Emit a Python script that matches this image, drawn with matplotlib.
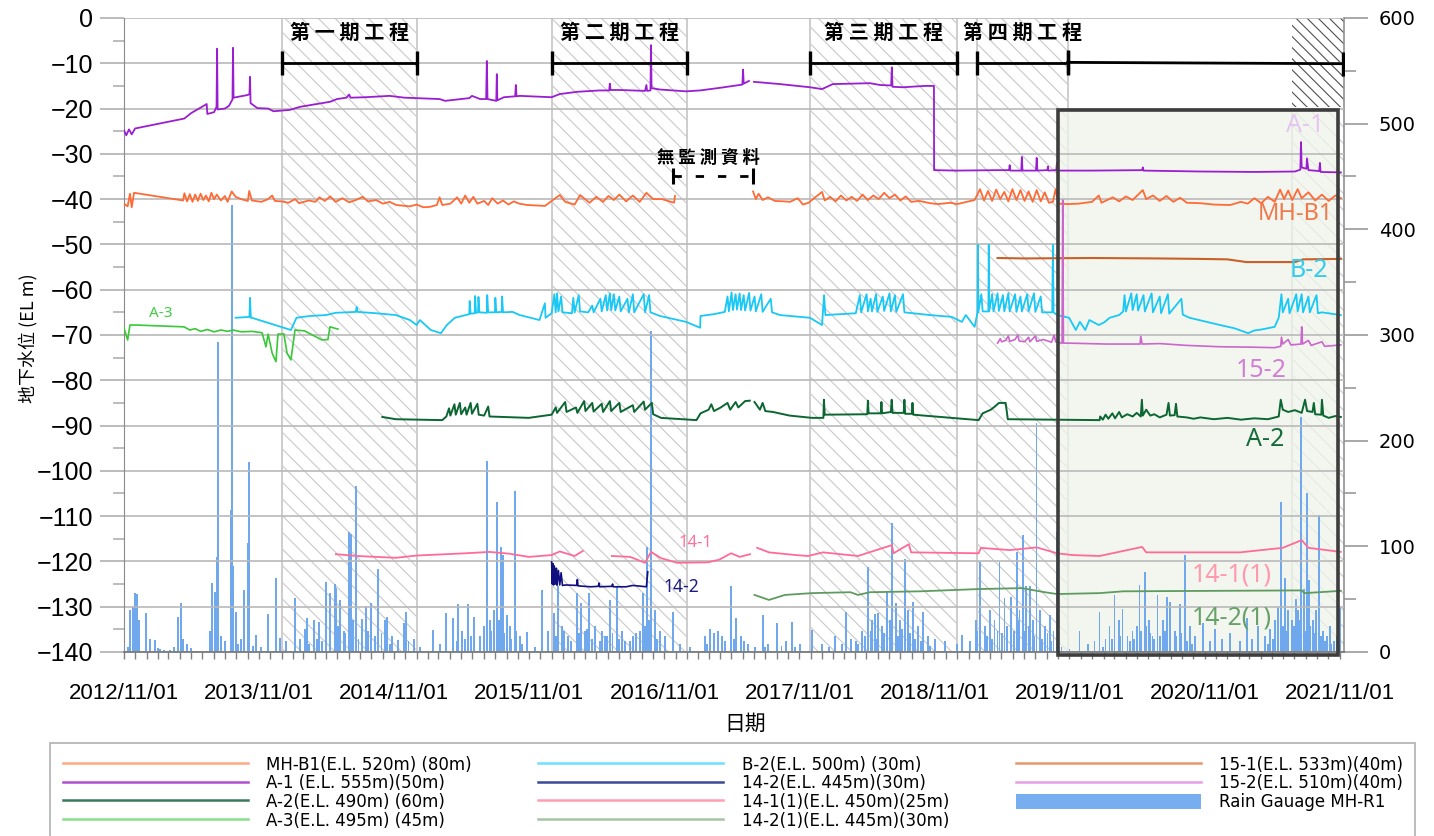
import numpy as np
import matplotlib
matplotlib.use('Agg')
import matplotlib.pyplot as plt
import matplotlib.dates as mdates
from matplotlib.ticker import MultipleLocator
from matplotlib.lines import Line2D
from matplotlib.patches import Patch, Rectangle
from datetime import datetime

plt.rcParams['font.family'] = ['Liberation Sans', 'Noto Sans CJK TC', 'DejaVu Sans']
plt.rcParams['hatch.linewidth'] = 0.8

# ---- data: (decimal year, level in m) ----
A1 = [(2012.833, -24.8), (2012.85, -25.9), (2012.87, -24.6), (2012.89, -25.7), (2012.915, -24.4),
      (2013.28, -22.2), (2013.33, -21.0), (2013.40, -19.8), (2013.445, -19.0), (2013.45, -21.2),
      (2013.50, -20.8), (2013.518, -19.6), (2013.522, -6.8), (2013.526, -20.2), (2013.58, -20.0),
      (2013.61, -19.4), (2013.636, -18.0), (2013.64, -6.6), (2013.644, -17.6), (2013.75, -17.0),
      (2013.762, -16.8), (2013.766, -13.0), (2013.77, -18.8), (2013.82, -19.9), (2013.90, -20.0),
      (2013.94, -20.6), (2014.06, -20.3), (2014.14, -19.6), (2014.36, -18.5), (2014.41, -17.9),
      (2014.48, -17.6), (2014.50, -16.9), (2014.51, -17.6), (2014.62, -17.5), (2014.80, -17.2),
      (2014.91, -17.6), (2015.17, -17.9), (2015.21, -18.3), (2015.39, -17.7), (2015.41, -17.2),
      (2015.47, -17.9), (2015.515, -17.9), (2015.52, -9.5), (2015.525, -17.9), (2015.59, -18.3),
      (2015.594, -12.4), (2015.598, -18.2), (2015.646, -17.5), (2015.73, -17.3), (2015.735, -14.8),
      (2015.74, -17.3), (2015.764, -17.2), (2016.00, -17.5), (2016.06, -16.8), (2016.19, -16.3),
      (2016.356, -16.0), (2016.425, -16.0), (2016.43, -14.5), (2016.435, -15.9), (2016.50, -15.9),
      (2016.69, -16.1), (2016.70, -14.8), (2016.705, -16.1), (2016.73, -16.0), (2016.734, -6.0),
      (2016.738, -15.5), (2016.80, -15.8), (2016.993, -16.2), (2017.097, -16.0), (2017.25, -15.4),
      (2017.39, -14.8), (2017.41, -14.7), (2017.415, -11.4), (2017.42, -14.5), (2017.459, -13.9),
      (2017.47, np.nan), (2017.496, -14.1), (2017.689, -14.6), (2017.911, -15.3), (2018.00, -15.7),
      (2018.08, -14.6), (2018.355, -14.4), (2018.43, -14.8), (2018.512, -14.9), (2018.517, -10.9),
      (2018.522, -15.2), (2018.60, -15.3), (2018.762, -15.0), (2018.829, -15.0), (2018.830, -33.6),
      (2019.00, -33.7), (2019.30, -33.6), (2019.385, -33.6), (2019.39, -32.5), (2019.395, -33.7),
      (2019.476, -33.7), (2019.48, -30.7), (2019.485, -33.7), (2019.585, -33.7), (2019.59, -30.9),
      (2019.595, -33.7), (2019.67, -33.6), (2019.673, -32.8), (2019.676, -33.7), (2019.735, -33.6),
      (2019.74, -32.0), (2019.745, -33.7), (2020.00, -33.7), (2020.37, -33.6), (2020.375, -33.0),
      (2020.38, -33.7), (2020.80, -33.9), (2021.20, -34.0), (2021.50, -33.9), (2021.54, -33.5),
      (2021.545, -27.4), (2021.55, -33.0), (2021.585, -33.3), (2021.589, -31.0), (2021.60, -33.6),
      (2021.68, -33.8), (2021.685, -32.0), (2021.69, -34.0), (2021.84, -34.1)]

MHB1 = [(2012.833, -41.0), (2012.86, -41.6), (2012.877, -38.8), (2012.89, -41.8), (2012.907, -38.6),
        (2013.27, -40.3), (2013.28, -38.7), (2013.30, -40.5), (2013.32, -38.9), (2013.34, -40.6),
        (2013.36, -39.0), (2013.38, -40.4), (2013.40, -38.8), (2013.42, -40.2), (2013.44, -39.2),
        (2013.46, -40.5), (2013.48, -38.6), (2013.50, -40.0), (2013.52, -39.0), (2013.55, -40.3),
        (2013.58, -39.3), (2013.60, -40.6), (2013.63, -38.3), (2013.66, -39.5), (2013.70, -40.0),
        (2013.75, -40.4), (2013.76, -38.2), (2013.78, -40.3), (2013.85, -40.6), (2013.90, -40.0),
        (2013.93, -39.2), (2013.95, -40.4), (2014.00, -40.5), (2014.05, -40.8), (2014.10, -40.0),
        (2014.13, -40.9), (2014.20, -40.3), (2014.25, -40.6), (2014.28, -39.6), (2014.32, -40.4),
        (2014.36, -39.4), (2014.40, -40.6), (2014.45, -39.8), (2014.50, -40.7), (2014.55, -40.2),
        (2014.60, -39.5), (2014.64, -40.5), (2014.70, -40.2), (2014.75, -41.0), (2014.80, -40.6),
        (2014.85, -41.3), (2014.95, -41.6), (2015.00, -41.2), (2015.05, -41.8), (2015.10, -41.7),
        (2015.15, -41.3), (2015.17, -39.6), (2015.19, -41.3), (2015.25, -41.0), (2015.30, -39.6),
        (2015.33, -41.0), (2015.36, -39.2), (2015.39, -40.8), (2015.42, -39.5), (2015.45, -41.0),
        (2015.50, -40.4), (2015.53, -41.3), (2015.56, -39.8), (2015.60, -41.0), (2015.64, -40.3),
        (2015.68, -41.2), (2015.72, -40.5), (2015.76, -41.0), (2015.82, -41.3), (2015.95, -41.5),
        (2016.00, -40.4), (2016.06, -39.1), (2016.10, -40.6), (2016.17, -41.2), (2016.21, -39.1),
        (2016.28, -40.8), (2016.33, -39.5), (2016.38, -40.6), (2016.42, -39.3), (2016.46, -40.2),
        (2016.50, -39.0), (2016.55, -40.5), (2016.60, -39.2), (2016.65, -40.6), (2016.70, -38.6),
        (2016.75, -40.0), (2016.815, -40.0), (2016.904, -40.8), (2016.911, -39.3), (2016.95, np.nan),
        (2017.489, -38.3), (2017.51, -40.0), (2017.53, -38.8), (2017.56, -40.2), (2017.60, -39.6),
        (2017.65, -40.4), (2017.72, -40.5), (2017.763, -40.6), (2017.82, -39.8), (2017.859, -41.2),
        (2017.90, -40.8), (2018.00, -38.4), (2018.02, -40.3), (2018.06, -39.5), (2018.10, -40.5),
        (2018.14, -39.2), (2018.18, -40.3), (2018.22, -39.5), (2018.26, -40.4), (2018.30, -39.0),
        (2018.34, -40.2), (2018.38, -39.2), (2018.42, -40.0), (2018.46, -38.6), (2018.50, -39.8),
        (2018.54, -39.0), (2018.58, -40.3), (2018.62, -39.4), (2018.66, -40.6), (2018.72, -40.4),
        (2018.80, -40.9), (2018.86, -41.1), (2018.95, -40.8), (2019.00, -41.1), (2019.13, -40.2),
        (2019.17, -37.8), (2019.20, -40.3), (2019.23, -38.2), (2019.26, -40.4), (2019.29, -37.9),
        (2019.32, -40.0), (2019.35, -38.4), (2019.38, -40.5), (2019.41, -37.8), (2019.44, -40.2),
        (2019.47, -38.0), (2019.50, -40.4), (2019.53, -38.3), (2019.56, -40.6), (2019.59, -38.0),
        (2019.62, -40.5), (2019.65, -38.5), (2019.68, -40.8), (2019.71, -40.6), (2019.73, -37.8),
        (2019.75, -41.0), (2019.82, -41.1), (2019.90, -41.0), (2020.00, -40.6), (2020.05, -39.2),
        (2020.07, -40.8), (2020.154, -39.6), (2020.20, -40.5), (2020.25, -39.4), (2020.30, -40.2),
        (2020.375, -38.0), (2020.40, -40.0), (2020.45, -39.2), (2020.50, -40.4), (2020.55, -39.3),
        (2020.60, -40.6), (2020.65, -39.7), (2020.70, -40.8), (2020.80, -40.9), (2020.90, -41.2),
        (2021.02, -41.3), (2021.10, -40.6), (2021.15, -41.0), (2021.20, -39.8), (2021.25, -40.9),
        (2021.30, -39.5), (2021.35, -40.6), (2021.39, -37.9), (2021.42, -40.0), (2021.45, -38.1),
        (2021.48, -40.2), (2021.52, -37.8), (2021.55, -39.8), (2021.60, -38.5), (2021.65, -40.3),
        (2021.70, -39.0), (2021.75, -40.4), (2021.80, -39.2), (2021.84, -39.8)]

B2 = [(2013.66, -66.2), (2013.762, -66.0), (2013.766, -61.8), (2013.772, -66.2), (2013.78, -66.2),
      (2014.069, -68.9), (2014.11, -66.2), (2014.21, -65.8), (2014.33, -65.6), (2014.40, -65.1),
      (2014.55, -64.9), (2014.556, -63.8), (2014.562, -64.9), (2014.70, -65.2), (2014.846, -65.6),
      (2014.95, -66.7), (2015.00, -67.8), (2015.024, -66.7), (2015.105, -68.9), (2015.18, -69.6),
      (2015.224, -67.8), (2015.283, -66.2), (2015.364, -65.6), (2015.39, -65.4), (2015.393, -62.5),
      (2015.40, -65.3), (2015.43, -65.2), (2015.433, -61.4), (2015.44, -65.1), (2015.455, -65.0),
      (2015.458, -61.6), (2015.465, -65.0), (2015.52, -65.1), (2015.523, -61.2), (2015.53, -65.0),
      (2015.58, -65.0), (2015.583, -61.8), (2015.59, -65.0), (2015.63, -64.9), (2015.633, -61.5),
      (2015.64, -65.0), (2015.71, -64.9), (2015.764, -65.6), (2015.91, -66.7), (2015.95, -63.0),
      (2015.955, -66.2), (2016.00, -65.2), (2016.02, -61.0), (2016.03, -65.0), (2016.04, -60.8),
      (2016.05, -64.8), (2016.07, -61.5), (2016.08, -65.0), (2016.15, -65.2), (2016.16, -61.8),
      (2016.17, -65.0), (2016.20, -61.2), (2016.21, -64.8), (2016.27, -65.0), (2016.30, -63.5),
      (2016.31, -65.0), (2016.36, -62.0), (2016.37, -64.8), (2016.40, -61.2), (2016.41, -64.6),
      (2016.43, -60.8), (2016.44, -64.5), (2016.46, -61.0), (2016.47, -64.6), (2016.50, -61.5),
      (2016.51, -64.8), (2016.56, -62.0), (2016.57, -65.0), (2016.60, -61.0), (2016.61, -65.0),
      (2016.68, -61.0), (2016.69, -65.0), (2016.72, -61.2), (2016.73, -65.0), (2016.80, -65.8),
      (2016.993, -67.1), (2017.097, -68.4), (2017.10, -65.8), (2017.20, -65.4), (2017.28, -64.9),
      (2017.30, -61.5), (2017.31, -64.8), (2017.33, -60.6), (2017.34, -64.5), (2017.36, -61.0),
      (2017.37, -64.4), (2017.39, -60.8), (2017.40, -64.5), (2017.42, -61.2), (2017.43, -64.6),
      (2017.46, -60.7), (2017.47, -64.6), (2017.50, -61.5), (2017.51, -64.8), (2017.55, -61.0),
      (2017.56, -64.9), (2017.62, -62.0), (2017.63, -65.0), (2017.689, -65.6), (2017.911, -66.2),
      (2018.00, -67.8), (2018.015, -61.2), (2018.025, -65.6), (2018.25, -65.2), (2018.28, -61.2),
      (2018.29, -65.0), (2018.33, -61.0), (2018.34, -64.8), (2018.36, -62.0), (2018.37, -64.8),
      (2018.40, -61.0), (2018.41, -64.9), (2018.45, -61.5), (2018.46, -64.7), (2018.50, -60.8),
      (2018.51, -64.8), (2018.54, -61.2), (2018.55, -64.9), (2018.60, -61.0), (2018.61, -65.0),
      (2018.80, -65.6), (2018.96, -66.0), (2019.036, -67.1), (2019.065, -65.6), (2019.13, -68.2),
      (2019.152, -65.0), (2019.155, -50.1), (2019.158, -64.9), (2019.18, -61.0), (2019.19, -64.8),
      (2019.232, -64.8), (2019.235, -50.1), (2019.238, -64.8), (2019.26, -61.0), (2019.27, -64.8),
      (2019.30, -60.8), (2019.31, -64.7), (2019.34, -61.2), (2019.35, -64.8), (2019.38, -60.8),
      (2019.39, -64.8), (2019.43, -61.0), (2019.44, -64.9), (2019.47, -61.5), (2019.48, -64.8),
      (2019.52, -61.0), (2019.53, -64.8), (2019.57, -60.8), (2019.58, -64.9), (2019.62, -61.5),
      (2019.63, -65.0), (2019.705, -65.0), (2019.71, -50.1), (2019.715, -65.0), (2019.74, -65.6),
      (2019.83, -66.2), (2019.88, -68.9), (2019.91, -67.1), (2019.95, -68.9), (2019.98, -66.7),
      (2020.05, -67.8), (2020.09, -67.2), (2020.13, -66.2), (2020.20, -65.6), (2020.23, -64.8),
      (2020.24, -61.2), (2020.25, -64.8), (2020.29, -60.8), (2020.30, -64.5), (2020.33, -61.0),
      (2020.34, -64.6), (2020.38, -61.2), (2020.39, -64.8), (2020.44, -60.8), (2020.45, -65.0),
      (2020.50, -61.5), (2020.51, -65.2), (2020.56, -61.0), (2020.57, -65.3), (2020.66, -62.0),
      (2020.67, -65.5), (2020.72, -66.2), (2020.945, -67.8), (2021.05, -68.5), (2021.153, -69.6),
      (2021.20, -69.0), (2021.25, -68.8), (2021.35, -68.2), (2021.38, -66.2), (2021.40, -61.0),
      (2021.41, -65.0), (2021.45, -62.0), (2021.46, -65.2), (2021.51, -61.0), (2021.52, -64.8),
      (2021.55, -61.0), (2021.56, -65.0), (2021.60, -61.5), (2021.61, -65.0), (2021.66, -61.2),
      (2021.67, -65.2), (2021.70, -65.0), (2021.84, -65.6)]

S15_1 = [(2019.30, -53.0), (2019.50, -53.1), (2020.00, -53.0), (2020.50, -53.1), (2020.80, -53.2),
         (2021.00, -53.3), (2021.14, -53.9), (2021.50, -53.9), (2021.56, -53.3), (2021.84, -53.2)]

S15_2 = [(2019.30, -71.8), (2019.32, -70.8), (2019.33, -71.5), (2019.36, -71.2), (2019.38, -70.2),
         (2019.39, -71.4), (2019.43, -71.0), (2019.45, -70.0), (2019.46, -71.3), (2019.50, -71.5),
         (2019.53, -70.5), (2019.54, -71.5), (2019.58, -70.2), (2019.59, -71.4), (2019.64, -71.0),
         (2019.70, -71.6), (2019.72, -70.0), (2019.73, -71.5), (2019.778, -71.8), (2019.783, -40.2),
         (2019.788, -71.8), (2019.83, -71.8), (2020.10, -72.0), (2020.355, -72.0), (2020.36, -70.3),
         (2020.37, -72.0), (2020.50, -71.9), (2020.70, -72.3), (2020.945, -72.6), (2021.20, -72.7),
         (2021.35, -72.8), (2021.395, -72.5), (2021.40, -70.5), (2021.41, -72.0), (2021.45, -71.0),
         (2021.47, -72.2), (2021.545, -72.0), (2021.55, -68.2), (2021.556, -72.0), (2021.60, -71.2),
         (2021.62, -72.3), (2021.70, -71.5), (2021.72, -72.5), (2021.84, -72.2)]

A2 = [(2014.746, -88.1), (2014.846, -88.6), (2015.19, -88.8), (2015.22, -88.0), (2015.24, -86.2),
      (2015.25, -87.8), (2015.28, -85.3), (2015.29, -87.6), (2015.32, -85.0), (2015.33, -87.5),
      (2015.36, -86.0), (2015.37, -87.6), (2015.40, -85.0), (2015.41, -87.4), (2015.45, -85.2),
      (2015.46, -87.6), (2015.50, -87.8), (2015.53, -85.8), (2015.54, -88.0), (2015.83, -88.3),
      (2016.00, -87.6), (2016.03, -86.0), (2016.04, -87.2), (2016.10, -84.8), (2016.11, -87.0),
      (2016.18, -86.0), (2016.19, -87.2), (2016.24, -84.6), (2016.25, -86.8), (2016.30, -85.0),
      (2016.31, -86.9), (2016.37, -85.2), (2016.38, -87.0), (2016.43, -84.6), (2016.44, -86.8),
      (2016.50, -85.0), (2016.51, -87.0), (2016.60, -85.5), (2016.61, -87.0), (2016.68, -84.7),
      (2016.69, -86.5), (2016.74, -85.0), (2016.75, -87.5), (2016.808, -88.3), (2017.07, -88.8),
      (2017.10, -87.3), (2017.16, -86.5), (2017.18, -85.3), (2017.20, -86.8), (2017.25, -86.0),
      (2017.30, -85.0), (2017.32, -86.5), (2017.36, -84.8), (2017.38, -86.0), (2017.43, -84.6),
      (2017.465, -84.5), (2017.475, np.nan), (2017.50, -84.8), (2017.54, -86.5), (2017.56, -85.0),
      (2017.58, -86.8), (2017.637, -87.0), (2017.76, -87.8), (2017.925, -88.3), (2018.01, -88.3),
      (2018.014, -84.3), (2018.02, -87.6), (2018.28, -87.5), (2018.335, -87.5), (2018.34, -84.5),
      (2018.345, -87.3), (2018.435, -87.3), (2018.44, -84.8), (2018.445, -87.3), (2018.51, -87.0),
      (2018.516, -84.3), (2018.522, -87.2), (2018.605, -87.2), (2018.61, -84.3), (2018.616, -87.4),
      (2018.665, -87.4), (2018.67, -85.0), (2018.676, -87.6), (2018.96, -88.3), (2019.16, -88.8),
      (2019.19, -87.3), (2019.25, -86.5), (2019.28, -85.8), (2019.31, -85.0), (2019.36, -85.0),
      (2019.376, -88.6), (2020.056, -88.8), (2020.06, -88.0), (2020.08, -88.7), (2020.10, -87.6),
      (2020.12, -88.5), (2020.15, -87.3), (2020.17, -88.4), (2020.20, -87.0), (2020.22, -88.2),
      (2020.26, -87.5), (2020.30, -88.0), (2020.33, -87.2), (2020.36, -88.0), (2020.368, -84.3),
      (2020.375, -87.8), (2020.40, -86.5), (2020.43, -87.8), (2020.46, -87.5), (2020.50, -88.2),
      (2020.55, -87.6), (2020.565, -85.0), (2020.575, -87.8), (2020.61, -87.7), (2020.62, -85.2),
      (2020.63, -88.0), (2020.70, -88.2), (2020.75, -88.5), (2020.80, -88.2), (2020.90, -88.6),
      (2021.00, -88.3), (2021.10, -88.7), (2021.20, -88.4), (2021.30, -88.6), (2021.38, -88.0),
      (2021.395, -84.3), (2021.41, -86.5), (2021.45, -87.0), (2021.50, -86.6), (2021.55, -87.2),
      (2021.575, -84.3), (2021.59, -86.8), (2021.63, -87.0), (2021.64, -85.0), (2021.65, -87.5),
      (2021.695, -87.6), (2021.70, -84.3), (2021.71, -87.8), (2021.75, -88.3), (2021.80, -87.9),
      (2021.84, -88.1)]

A3 = [(2012.833, -68.5), (2012.86, -71.1), (2012.877, -67.8), (2012.92, -67.8), (2013.277, -68.2),
      (2013.32, -68.9), (2013.36, -68.6), (2013.40, -69.2), (2013.45, -68.8), (2013.50, -69.3),
      (2013.55, -68.9), (2013.60, -69.2), (2013.64, -68.9), (2013.70, -69.3), (2013.78, -69.2),
      (2013.855, -69.5), (2013.884, -72.6), (2013.90, -69.8), (2013.93, -74.0), (2013.958, -75.9),
      (2013.973, -69.8), (2014.017, -69.8), (2014.04, -74.0), (2014.069, -75.5), (2014.099, -68.9),
      (2014.17, -69.1), (2014.299, -71.1), (2014.343, -71.0), (2014.358, -68.2), (2014.417, -68.7)]

S14_1 = [(2014.402, -118.4), (2014.557, -118.8), (2014.846, -119.2), (2015.00, -118.7),
         (2015.364, -118.2), (2015.54, -117.9), (2015.69, -118.3), (2015.83, -119.0), (2016.00, -118.6),
         (2016.06, -117.8), (2016.17, -118.8), (2016.23, -117.7), (2016.30, np.nan), (2016.445, -118.8),
         (2016.58, -119.0), (2016.69, -120.3), (2016.734, -117.9), (2016.81, -119.3), (2016.926, -120.3),
         (2017.155, -120.2), (2017.24, -119.6), (2017.326, -118.2), (2017.39, -119.0), (2017.467, -118.4),
         (2017.49, np.nan), (2017.52, -117.0), (2017.607, -118.0), (2017.807, -118.6), (2017.896, -118.8),
         (2018.007, -118.0), (2018.266, -118.8), (2018.517, -116.4), (2018.53, -118.2), (2018.643, -116.2),
         (2018.66, -118.0), (2019.16, -118.2), (2019.177, -117.0), (2019.39, -117.5), (2019.59, -116.9),
         (2019.74, -118.2), (2019.857, -118.6), (2020.056, -118.8), (2020.37, -116.8), (2020.40, -118.0),
         (2021.093, -118.0), (2021.41, -117.0), (2021.55, -115.3), (2021.60, -117.0), (2021.84, -117.9)]

S14_2 = [(2016.00, -120.1), (2016.005, -125.0), (2016.01, -120.5), (2016.015, -125.2), (2016.02, -121.0),
         (2016.03, -125.0), (2016.035, -121.5), (2016.04, -125.3), (2016.05, -122.0), (2016.06, -125.2),
         (2016.07, -122.5), (2016.08, -125.3), (2016.105, -125.2), (2016.185, -125.3), (2016.19, -124.0),
         (2016.195, -125.4), (2016.29, -125.6), (2016.345, -125.5), (2016.35, -124.8), (2016.355, -125.6),
         (2016.445, -125.5), (2016.45, -125.0), (2016.455, -125.6), (2016.55, -125.6), (2016.60, -125.3),
         (2016.70, -125.6), (2016.71, -122.3)]

S14_2_1 = [(2017.50, -127.4), (2017.607, -128.5), (2017.725, -127.4), (2017.925, -127.0), (2018.21, -126.8),
           (2018.266, -127.4), (2018.355, -126.8), (2018.73, -126.6), (2019.16, -126.1), (2019.48, -125.9),
           (2019.65, -126.8), (2019.74, -127.2), (2020.056, -127.0), (2020.23, -126.6), (2021.55, -126.4),
           (2021.57, -127.0), (2021.84, -126.5)]

# rain gauge MH-R1 (mm), decimal year
RAIN_T = [2012.863, 2012.877, 2012.900, 2012.914, 2012.929, 2012.944, 2012.996, 2013.025, 2013.062, 2013.085,
          2013.173, 2013.233, 2013.255, 2013.270, 2013.484, 2013.506, 2013.521, 2013.529, 2013.625, 2013.632,
          2013.640, 2013.662, 2013.721, 2013.751, 2013.758, 2013.810, 2013.899, 2013.958, 2013.988, 2014.032,
          2014.099, 2014.136, 2014.173, 2014.188, 2014.240, 2014.276, 2014.328, 2014.358, 2014.395, 2014.402,
          2014.432, 2014.461, 2014.498, 2014.513, 2014.550, 2014.594, 2014.624, 2014.661, 2014.713, 2014.764,
          2014.779, 2014.816, 2014.861, 2014.905, 2014.920, 2014.979, 2015.024, 2015.120, 2015.172, 2015.216,
          2015.268, 2015.305, 2015.335, 2015.379, 2015.423, 2015.468, 2015.520, 2015.542, 2015.571, 2015.594,
          2015.623, 2015.638, 2015.668, 2015.690, 2015.727, 2015.764, 2015.816, 2015.875, 2015.927, 2015.971,
          2016.015, 2016.045, 2016.075, 2016.119, 2016.186, 2016.215, 2016.245, 2016.274, 2016.319, 2016.356,
          2016.393, 2016.429, 2016.481, 2016.518, 2016.577, 2016.622, 2016.674, 2016.703, 2016.733, 2016.763,
          2016.800, 2016.837, 2016.896, 2016.948, 2017.022, 2017.133, 2017.170, 2017.199, 2017.229, 2017.258,
          2017.325, 2017.362, 2017.421, 2017.502, 2017.562, 2017.599, 2017.666, 2017.732, 2017.777, 2017.836,
          2017.925, 2017.998, 2018.094, 2018.175, 2018.213, 2018.264, 2018.294, 2018.339, 2018.368, 2018.390,
          2018.413, 2018.442, 2018.479, 2018.501, 2018.516, 2018.546, 2018.575, 2018.612, 2018.635, 2018.672,
          2018.709, 2018.746, 2018.783, 2018.835, 2018.908, 2018.997, 2019.035, 2019.094, 2019.138, 2019.168,
          2019.204, 2019.242, 2019.278, 2019.315, 2019.352, 2019.397, 2019.441, 2019.463, 2019.486, 2019.508,
          2019.538, 2019.560, 2019.589, 2019.612, 2019.649, 2019.686, 2019.715, 2019.737, 2019.774, 2019.833,
          2019.907, 2019.967, 2020.018, 2020.055, 2020.099, 2020.129, 2020.166, 2020.196, 2020.225, 2020.262,
          2020.299, 2020.329, 2020.351, 2020.388, 2020.418, 2020.447, 2020.484, 2020.521, 2020.551, 2020.573,
          2020.610, 2020.647, 2020.684, 2020.721, 2020.758, 2020.817, 2020.869, 2020.906, 2020.958, 2021.017,
          2021.091, 2021.144, 2021.181, 2021.225, 2021.277, 2021.314, 2021.351, 2021.373, 2021.395, 2021.425,
          2021.447, 2021.476, 2021.506, 2021.521, 2021.543, 2021.565, 2021.587, 2021.602, 2021.632, 2021.654,
          2021.676, 2021.706, 2021.735, 2021.758, 2021.787, 2021.809, 2021.832]
RAIN_MM = [5, 40, 43, 56, 55, 30, 37, 12, 11, 4,
           2, 33, 46, 12, 65, 57, 90, 293, 134, 423,
           81, 38, 59, 103, 180, 16, 36, 70, 13, 10,
           51, 12, 22, 32, 30, 28, 66, 56, 64, 61,
           49, 20, 114, 112, 157, 31, 44, 46, 79, 30,
           33, 15, 11, 27, 38, 12, 5, 21, 8, 37,
           32, 45, 20, 45, 33, 15, 181, 30, 40, 142,
           99, 92, 35, 25, 152, 15, 19, 5, 59, 20,
           37, 62, 25, 15, 56, 46, 20, 56, 25, 10,
           15, 49, 62, 20, 10, 18, 56, 99, 304, 40,
           20, 15, 38, 8, 5, 15, 22, 18, 20, 15,
           62, 32, 10, 5, 35, 8, 27, 10, 28, 8,
           21, 8, 15, 38, 12, 8, 20, 80, 30, 36,
           37, 25, 57, 30, 122, 46, 30, 88, 40, 47,
           25, 38, 15, 12, 10, 8, 16, 10, 30, 85,
           25, 40, 30, 85, 51, 52, 95, 40, 111, 62,
           62, 30, 217, 40, 25, 35, 20, 114, 5, 3,
           20, 8, 10, 38, 12, 25, 54, 30, 41, 15,
           20, 25, 63, 76, 30, 15, 54, 30, 52, 47,
           20, 45, 92, 25, 15, 27, 10, 22, 12, 18,
           10, 32, 12, 25, 15, 22, 30, 43, 142, 70,
           40, 30, 50, 40, 222, 60, 150, 68, 30, 40,
           130, 20, 15, 25, 10, 15, 43]
# the many small daily totals near the baseline
RAIN_SMALL_T = [2013.10, 2013.13, 2013.20, 2013.30, 2013.33, 2013.47, 2013.55, 2013.58, 2013.68, 2013.70,
                2013.79, 2013.85, 2014.20, 2014.26, 2014.30, 2014.42, 2014.47, 2014.53, 2014.57, 2014.64,
                2014.69, 2014.74, 2014.80, 2014.94, 2015.30, 2015.36, 2015.40, 2015.50, 2015.55, 2015.61,
                2015.65, 2015.70, 2015.74, 2015.78, 2016.03, 2016.09, 2016.14, 2016.20, 2016.26, 2016.30,
                2016.37, 2016.41, 2016.45, 2016.50, 2016.54, 2016.60, 2016.65, 2016.69, 2016.72, 2016.78,
                2017.15, 2017.28, 2017.35, 2017.40, 2017.45, 2017.58, 2017.70, 2017.80, 2018.05, 2018.15,
                2018.25, 2018.32, 2018.36, 2018.40, 2018.46, 2018.52, 2018.56, 2018.59, 2018.65, 2018.69,
                2018.73, 2018.80, 2019.15, 2019.22, 2019.26, 2019.30, 2019.33, 2019.37, 2019.42, 2019.45,
                2019.50, 2019.53, 2019.57, 2019.63, 2019.67, 2019.70, 2020.08, 2020.15, 2020.21, 2020.28,
                2020.31, 2020.36, 2020.40, 2020.43, 2020.46, 2020.50, 2020.54, 2020.58, 2020.62, 2020.66,
                2020.70, 2020.74, 2021.30, 2021.34, 2021.41, 2021.44, 2021.49, 2021.53, 2021.58, 2021.61,
                2021.64, 2021.69, 2021.72, 2021.77, 2021.82]
RAIN_SMALL_MM = [3, 2, 5, 8, 4, 20, 15, 10, 8, 12,
                 6, 5, 8, 12, 10, 25, 18, 30, 12, 20,
                 15, 18, 8, 10, 10, 12, 15, 25, 20, 30,
                 18, 12, 20, 8, 15, 20, 10, 18, 22, 12,
                 20, 15, 18, 12, 10, 15, 20, 25, 30, 12,
                 8, 10, 12, 15, 8, 5, 6, 5, 5, 8,
                 10, 15, 20, 12, 18, 20, 15, 22, 18, 12,
                 10, 6, 20, 15, 12, 20, 18, 25, 20, 30,
                 20, 25, 15, 12, 18, 10, 5, 12, 15, 10,
                 12, 20, 25, 18, 12, 15, 20, 12, 15, 18,
                 10, 8, 8, 12, 25, 20, 25, 30, 20, 25,
                 18, 15, 10, 8, 10]

# construction phases and shaded periods (decimal years)
PHASE_NAMES = ['第 一 期 工 程', '第 二 期 工 程', '第 三 期 工 程', '第 四 期 工 程']
PHASE_SPANS = [(2014.0, 2015.0), (2016.0, 2017.0), (2017.91, 2019.0), (2019.145, 2019.82)]
TAIL_SPAN = (2019.82, 2021.855)
NO_DATA_SPAN = (2016.896, 2017.489)
LATE_SPAN = (2021.475, 2021.86)
BOX_SPAN = (2019.745, 2021.817)


def to_date(vals):
    out = []
    for v in np.atleast_1d(vals):
        y = int(np.floor(v))
        a = mdates.date2num(datetime(y, 1, 1))
        b = mdates.date2num(datetime(y + 1, 1, 1))
        out.append(a + (v - y) * (b - a))
    return np.array(out)


def split(series):
    t, v = zip(*series)
    return to_date(t), np.array(v, dtype=float)


fig = plt.figure(figsize=(14.34, 8.36), dpi=100)
ax = fig.add_axes([0.0865, 0.2201, 0.8507, 0.7584])
ax2 = ax.twinx()
ax.set_zorder(2)
ax2.set_zorder(1)
ax.patch.set_visible(False)

x0 = mdates.date2num(datetime(2012, 11, 1))
x1 = mdates.date2num(datetime(2021, 11, 12))
ax.set_xlim(x0, x1)
ax.set_ylim(-140, 0)
ax2.set_ylim(0, 600)

# shaded construction periods
for a, b in PHASE_SPANS:
    ax2.axvspan(to_date(a)[0], to_date(b)[0], facecolor='none', edgecolor='#c9c9c9',
                hatch='\\\\', lw=0, zorder=0.5)
    for e in (a, b):
        ax2.axvline(to_date(e)[0], color='#cdcdcd', lw=1.4, zorder=0.6)
la, lb = to_date(LATE_SPAN)
ax2.axvspan(la, lb, ymin=0, ymax=0.855, facecolor='none', edgecolor='#c9c9c9',
            hatch='\\\\', lw=0, zorder=0.5)
ax2.axvspan(la, lb, ymin=0.859, ymax=1.0, facecolor='none', edgecolor='#505050',
            hatch='\\\\\\', lw=0, zorder=0.5)
ax2.axvline(la, ymin=0, ymax=0.855, color='#cdcdcd', lw=1.4, zorder=0.6)

# highlighted box
ba, bb = to_date(BOX_SPAN)
ax2.add_patch(Rectangle((ba, -140.6), bb - ba, 120.3, transform=ax.transData,
                        facecolor='#eef4ea', alpha=0.75, lw=0, zorder=1))
ax.add_patch(Rectangle((ba, -140.6), bb - ba, 120.3, fill=False, edgecolor='#3d3d3d',
                       lw=2.6, zorder=6, clip_on=False))

# rainfall
ax2.bar(to_date(RAIN_T), RAIN_MM, width=5, color='#6fa8ec', lw=0, zorder=2)
ax2.bar(to_date(RAIN_SMALL_T), RAIN_SMALL_MM, width=5, color='#6fa8ec', lw=0, zorder=2)

# groundwater series
series = [(MHB1, '#ff6a35', 1.3), (A1, '#9a1ed0', 1.3), (A2, '#0b6632', 1.4), (A3, '#38c838', 1.2),
          (B2, '#19c8f5', 1.3), (S14_2, '#101080', 1.2), (S14_1, '#ff6b98', 1.3),
          (S14_2_1, '#5f9a5f', 1.3), (S15_1, '#c8602a', 1.5), (S15_2, '#cc66cc', 1.2)]
for s, c, w in series:
    t, v = split(s)
    ax.plot(t, v, color=c, lw=w, zorder=3)

# phase bars
cjk = ['Noto Sans CJK TC', 'DejaVu Sans']
for name, (a, b) in zip(PHASE_NAMES, PHASE_SPANS):
    ta, tb = to_date([a, b])
    ax.plot([ta, tb], [-10, -10], color='k', lw=2, zorder=7)
    ax.plot([ta, tb], [-10, -10], ls='none', marker='|', ms=17, mew=2.4, color='k', zorder=7)
    ax.text((ta + tb) / 2, -3.2, name, family=cjk, fontsize=14.5, fontweight='bold',
            ha='center', va='center', zorder=7)
ta, tb = to_date(TAIL_SPAN)
ax.plot([ta, tb], [-9.8, -10.1], color='k', lw=2, zorder=7)
ax.plot([ta, tb], [-9.8, -10.1], ls='none', marker='|', ms=17, mew=2.4, color='k', zorder=7)

na, nb = to_date(NO_DATA_SPAN)
ax.plot([na, nb], [-35, -35], color='k', lw=2, ls=(0, (3, 5)), zorder=7)
ax.plot([na, nb], [-35, -35], ls='none', marker='|', ms=12, mew=2.2, color='k', zorder=7)
ax.text((na + nb) / 2 - 12, -30.9, '無 監 測 資 料', family=cjk, fontsize=12.5, fontweight='bold',
        ha='center', va='center', zorder=7)

# series labels
labels = [('A-1', 2021.572, -23.8, '#e4c6f0', 18), ('MH-B1', 2021.506, -43.3, '#f0784a', 17),
          ('B-2', 2021.602, -55.8, '#33ccee', 18), ('15-2', 2021.247, -77.9, '#d27ed2', 18),
          ('A-2', 2021.276, -93.0, '#156b3a', 18), ('14-1(1)', 2021.032, -123.0, '#ff9aae', 18),
          ('14-2(1)', 2021.032, -132.5, '#6aa06a', 18), ('A-3', 2013.107, -65.2, '#44cc44', 11),
          ('14-1', 2017.066, -115.9, '#ff6f99', 12), ('14-2', 2016.955, -125.6, '#1a1a80', 12.5)]
for txt, tx, ty, c, fs in labels:
    ax.text(to_date(tx)[0], ty, txt, color=c, fontsize=fs, family=['Noto Sans', 'DejaVu Sans'],
            ha='center', va='center', zorder=8)

# axes styling
ax.set_yticks(np.arange(-140, 1, 10))
ax.yaxis.set_minor_locator(MultipleLocator(5))
ax.yaxis.grid(True, which='major', color='#b9b9b9', lw=1.2)
ax.set_axisbelow(True)
ax.tick_params(axis='y', which='major', length=17, width=1.2, color='#b0b0b0', labelsize=18, pad=5)
ax.tick_params(axis='y', which='minor', length=8, width=1.2, color='#b0b0b0')
ax.xaxis.set_major_locator(mdates.MonthLocator(bymonth=11))
ax.xaxis.set_minor_locator(mdates.MonthLocator())
ax.xaxis.set_major_formatter(mdates.DateFormatter('%Y/%m/%d'))
ax.tick_params(axis='x', which='both', length=5, width=1, color='#808080', labelsize=16, pad=17)

ax2.set_yticks(np.arange(0, 601, 100))
ax2.yaxis.set_minor_locator(MultipleLocator(50))
ax2.tick_params(axis='y', which='major', length=17, width=1.2, color='#999999', labelsize=14, pad=8)
ax2.tick_params(axis='y', which='minor', length=8.5, width=1.2, color='#999999')
for lab in ax2.get_yticklabels():
    lab.set_fontfamily('DejaVu Sans')

for sp in ('top', 'right'):
    ax.spines[sp].set_visible(False)
ax.spines['left'].set_color('#8a8a8a')
ax.spines['bottom'].set_color('#7a7a7a')
ax.spines['bottom'].set_linewidth(1.3)
for sp in ('top', 'left', 'bottom'):
    ax2.spines[sp].set_visible(False)
ax2.spines['right'].set_color('#909090')
ax2.spines['right'].set_linewidth(1.2)

fig.text(0.0205, 0.596, '地下水位 (EL m)', rotation=90, family=cjk, fontsize=13,
         ha='center', va='center')
fig.text(0.5195, 0.1340, '日期', family=cjk, fontsize=15, ha='center', va='center')

# legend
leg_items = [('MH-B1(E.L. 520m) (80m)', '#ffa983'), ('A-1 (E.L. 555m)(50m)', '#b050d0'),
             ('A-2(E.L. 490m) (60m)', '#3a7a5a'), ('A-3(E.L. 495m) (45m)', '#88e088'),
             ('B-2(E.L. 500m) (30m)', '#6ee0ff'), ('14-2(E.L. 445m)(30m)', '#3a4a9a'),
             ('14-1(1)(E.L. 450m)(25m)', '#ff9db0'), ('14-2(1)(E.L. 445m)(30m)', '#a5c4a5'),
             ('15-1(E.L. 533m)(40m)', '#e8966e'), ('15-2(E.L. 510m)(40m)', '#e6a0e6')]
handles = [Line2D([], [], color=c, lw=1.8) for _, c in leg_items]
names = [n for n, _ in leg_items]
handles.append(Patch(facecolor='#77aef0', edgecolor='none'))
names.append('Rain Gauage MH-R1')
leg = fig.legend(handles, names, ncol=3, loc='upper left', bbox_to_anchor=(0.0349, 0.1112),
                 bbox_transform=fig.transFigure, frameon=True, fancybox=False, framealpha=1,
                 edgecolor='#b0b0b0', prop={'family': 'DejaVu Sans', 'size': 12},
                 handlelength=11.1, handleheight=1.05, handletextpad=1.1, columnspacing=4.0,
                 labelspacing=0.05, borderpad=0.75, borderaxespad=0)
leg.get_frame().set_linewidth(1.2)

fig.savefig('out.png', dpi=100)
